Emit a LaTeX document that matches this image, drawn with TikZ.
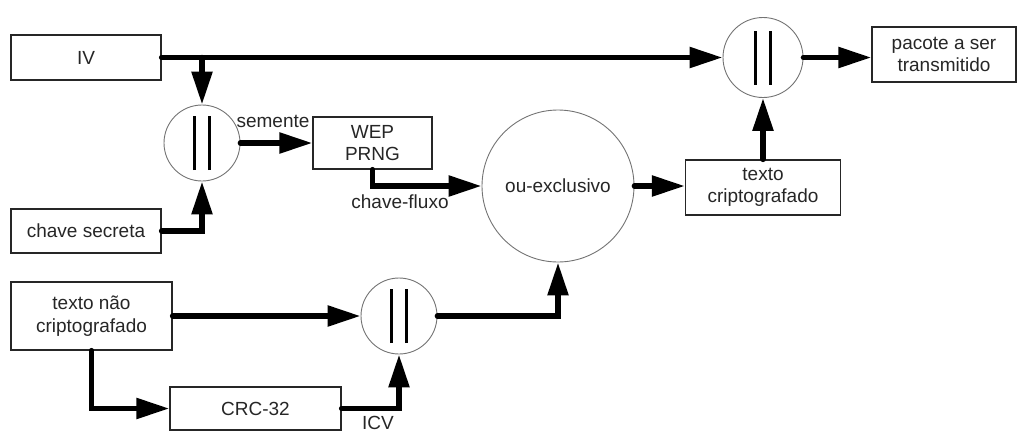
\documentclass[tikz,border=0pt]{standalone}
\usepackage{fontspec}
\setmainfont{Liberation Sans}
\usetikzlibrary{arrows.meta}

\begin{document}
\begin{tikzpicture}[x=1pt,y=-1pt,
  every node/.style={font=\fontsize{19}{22.5}\selectfont, text=black!85},
  blk/.style={draw=black!85, line width=1.3pt, rectangle, inner sep=0pt, align=center},
  ring/.style={draw=black!55, line width=0.9pt, circle, inner sep=0pt},
  concat/.style={ring, minimum size=#1,
    path picture={
      \draw[line width=3pt, black]
        ([xshift=-7.5pt,yshift=-27pt]path picture bounding box.center) -- ++(0pt,54pt)
        ([xshift=7.5pt,yshift=-27pt]path picture bounding box.center) -- ++(0pt,54pt);
    }},
  flow/.style={line width=5.5pt, line cap=round, black,
    -{Triangle[length=33pt,width=20pt]}},
  lbl/.style={inner sep=0pt}
]
\useasboundingbox (0,0) rectangle (1018,432);

% boxes
\node[blk, minimum width=150pt, minimum height=45pt] (iv) at (86,57.5) {IV};
\node[blk, minimum width=150pt, minimum height=44pt] (chave) at (86,231) {chave secreta};
\node[blk, minimum width=119pt, minimum height=52pt] (wep) at (372.5,143) {WEP\\PRNG};
\node[blk, minimum width=155pt, minimum height=55pt] (cifrado) at (763,187.5) {texto\\criptografado};
\node[blk, minimum width=144pt, minimum height=55pt] (pacote) at (944,54.5) {pacote a ser\\transmitido};
\node[blk, minimum width=161pt, minimum height=68pt] (plano) at (91.5,316) {texto não\\criptografado};
\node[blk, minimum width=171pt, minimum height=43pt] (crc) at (255.5,408.5) {CRC-32};

% concatenation and xor operators
\node[concat=76pt] (cat1) at (202,143) {};
\node[concat=80pt] (cat2) at (763,57.5) {};
\node[concat=76pt] (cat3) at (399,316) {};
\node[ring, minimum size=152pt] (xor) at (558,186) {ou-exclusivo};

% connectors
\draw[flow] (iv.east) -- (cat2.west);
\draw[flow] (iv.east -| cat1.north) -- (cat1.north);
\draw[flow] (chave.east) -| (cat1.south);
\draw[flow] (cat1.east) -- (wep.west);
\draw[flow] (wep.south) |- (xor.west);
\draw[flow] (xor.east) -- (xor.east -| cifrado.west);
\draw[flow] (cifrado.north) -- (cat2.south);
\draw[flow] (cat2.east) -- (cat2.east -| pacote.west);
\draw[flow] (plano.east) -- (cat3.west);
\draw[flow] (plano.south) |- (crc.west);
\draw[flow] (crc.east) -| (cat3.south);
\draw[flow] (cat3.east) -| (xor.south);

% labels
\node[lbl] (semente) at (273,121) {semente};
\node[lbl] (fluxo) at (400,202) {chave-fluxo};
\node[lbl] (icv) at (378,423) {ICV};
\end{tikzpicture}
\end{document}
